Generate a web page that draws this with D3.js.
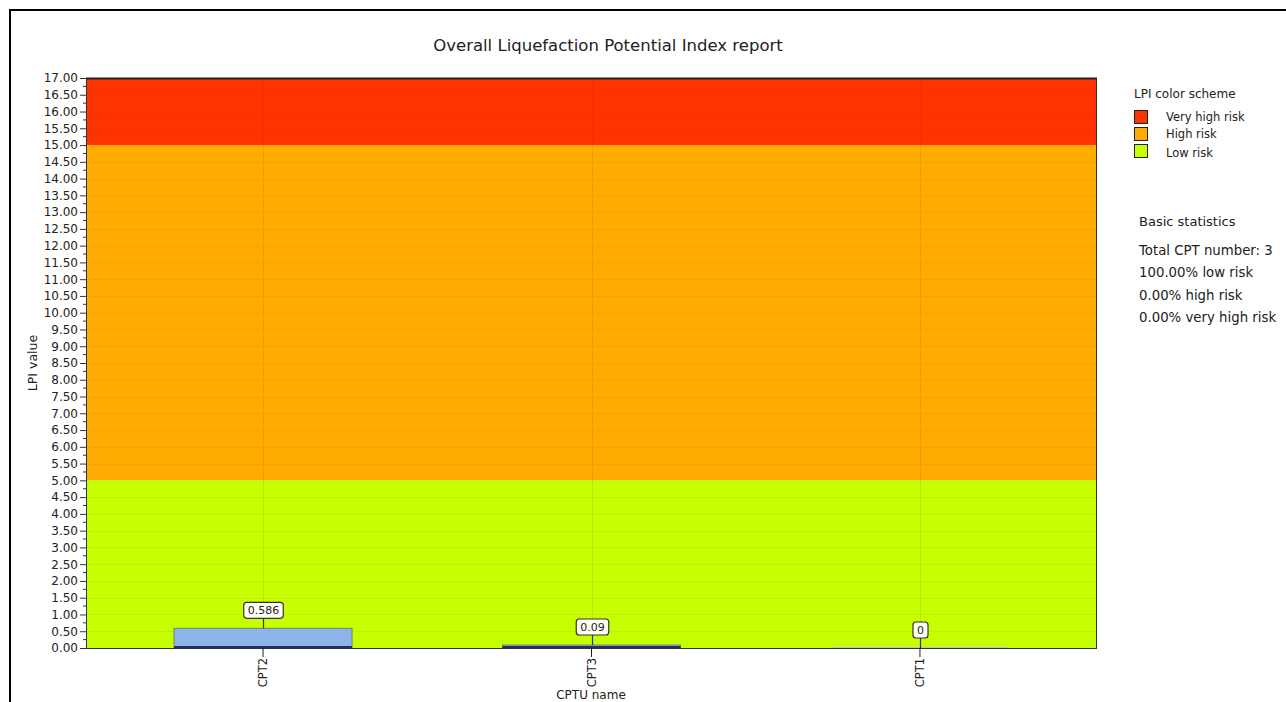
<!DOCTYPE html>
<html><head><meta charset="utf-8">
<script src="https://cdn.jsdelivr.net/npm/d3@7"></script>
<style>
html,body{margin:0;padding:0;background:#fff;}
svg{display:block;}
text{font-family:"DejaVu Sans",Verdana,sans-serif;fill:#222;}
</style></head>
<body>
<svg id="chart" width="1286" height="702"></svg>
<script>
const categories = ["CPT2", "CPT3", "CPT1"];
const lpiValues = [0.586, 0.09, 0];
const valueLabels = ["0.586", "0.09", "0"];
const riskNames = ["Very high risk", "High risk", "Low risk"];
const riskLower = [15, 5, 0];
const riskUpper = [17, 15, 5];
const riskColors = ["#ff3300", "#ffab00", "#c8ff00"];
const statLines = ["Total CPT number: 3", "100.00% low risk", "0.00% high risk", "0.00% very high risk"];
const yMax = 17;

const svg = d3.select("#chart");
const W = 1286, H = 702;
const m = {left: 86, right: 1097, top: 78, bottom: 648};

// outer frame
svg.append("path").attr("d", `M10,${H} L10,10 L${W},10`).attr("fill","none").attr("stroke","#000").attr("stroke-width",2);

const x = d3.scaleBand().domain(categories).range([m.left, m.right]).paddingOuter(0.039).paddingInner(0);
const y = d3.scaleLinear().domain([0, yMax]).range([m.bottom, m.top]);

// bands
svg.append("g").selectAll("rect").data(riskNames).join("rect")
  .attr("x", m.left).attr("width", m.right - m.left)
  .attr("y", (d,i) => y(riskUpper[i])).attr("height", (d,i) => y(riskLower[i]) - y(riskUpper[i]))
  .attr("fill", (d,i) => riskColors[i]);

// horizontal grid
const majorTicks = y.ticks(34);
svg.append("g").selectAll("line").data(majorTicks.filter(t => t > 0 && t < yMax)).join("line")
  .attr("x1", m.left).attr("x2", m.right).attr("y1", d => Math.round(y(d))+0.5).attr("y2", d => Math.round(y(d))+0.5)
  .attr("stroke", "rgba(90,60,0,0.07)").attr("stroke-width", 1);
// vertical grid
svg.append("g").selectAll("line").data(categories).join("line")
  .attr("x1", d => Math.round(x(d) + x.bandwidth()/2)+0.5).attr("x2", d => Math.round(x(d) + x.bandwidth()/2)+0.5)
  .attr("y1", m.top).attr("y2", m.bottom)
  .attr("stroke", "rgba(90,60,0,0.10)").attr("stroke-width", 1);

// bars
const barW = x.bandwidth() * 0.542;
const bars = svg.append("g");
categories.forEach((c, i) => {
  const cx = x(c) + x.bandwidth()/2;
  const v = lpiValues[i];
  const top = y(v);
  if (v > 0) {
    bars.append("rect").attr("x", cx - barW/2).attr("y", top).attr("width", barW).attr("height", y(0) - top)
      .attr("fill", "#8db4e8").attr("stroke", "#6d8a6a").attr("stroke-width", 1);
    bars.append("line").attr("x1", cx - barW/2).attr("x2", cx + barW/2).attr("y1", y(0) - 1).attr("y2", y(0) - 1)
      .attr("stroke", "#1f2f6a").attr("stroke-width", 2);
  } else {
    bars.append("line").attr("x1", cx - barW/2).attr("x2", cx + barW/2).attr("y1", y(0) - 0.5).attr("y2", y(0) - 0.5)
      .attr("stroke", "#b8c8b0").attr("stroke-width", 1);
  }
});

// plot border
svg.append("rect").attr("x", m.left + 0.5).attr("y", m.top + 0.5).attr("width", m.right - m.left - 1).attr("height", m.bottom - m.top)
  .attr("fill", "none").attr("stroke", "#333").attr("stroke-width", 1);
svg.append("line").attr("x1", m.left).attr("x2", m.right).attr("y1", m.top+0.5).attr("y2", m.top+0.5).attr("stroke","#222").attr("stroke-width",2);

// y axis
const yAxis = d3.axisLeft(y).tickValues(majorTicks).tickFormat(d3.format(".2f")).tickSize(6).tickPadding(2);
const gy = svg.append("g").attr("transform", `translate(${m.left},0)`).call(yAxis);
gy.select(".domain").attr("stroke", "#333");
gy.selectAll(".tick line").attr("stroke", "#333");
gy.selectAll(".tick text").style("font-size", "12px").attr("fill", "#333");
const minor = d3.range(0.25, yMax, 0.5);
svg.append("g").selectAll("line").data(minor).join("line")
  .attr("x1", m.left - 3).attr("x2", m.left).attr("y1", d => y(d)).attr("y2", d => y(d)).attr("stroke", "#333");

// x axis
const xAxis = d3.axisBottom(x).tickSize(9).tickPadding(3);
const gx = svg.append("g").attr("transform", `translate(0,${m.bottom})`).call(xAxis);
gx.select(".domain").remove();
gx.selectAll(".tick line").attr("stroke", "#222");
gx.selectAll(".tick text").style("font-size", "11.5px").attr("fill", "#333")
  .attr("transform", "rotate(-90)").attr("text-anchor", "end").attr("dy", "0.35em").attr("x", -10).attr("y", 0);

// value labels
const lbl = svg.append("g");
categories.forEach((c, i) => {
  const cx = Math.round(x(c) + x.bandwidth()/2) + 0.5;
  const top = y(lpiValues[i]);
  const boxBottom = top - 10;
  const t = lbl.append("text").attr("x", cx).attr("y", boxBottom - 4).attr("text-anchor", "middle")
    .style("font-size", "11px").attr("fill", "#222").text(valueLabels[i]);
  const bb = t.node().getBBox();
  lbl.insert("line", "text").attr("x1", cx).attr("x2", cx).attr("y1", boxBottom).attr("y2", top).attr("stroke", "#333").attr("stroke-width", 1.2);
  lbl.insert("rect", "text").attr("x", bb.x - 4).attr("y", boxBottom - 16).attr("width", bb.width + 8).attr("height", 16)
    .attr("rx", 3).attr("fill", "#fffff6").attr("stroke", "#333").attr("stroke-width", 1.2);
});

// titles
svg.append("text").attr("x", 608).attr("y", 51).attr("text-anchor", "middle").style("font-size", "16.5px").text("Overall Liquefaction Potential Index report");
svg.append("text").attr("transform", `translate(37,${(m.top + m.bottom)/2}) rotate(-90)`).attr("text-anchor", "middle").style("font-size", "12.5px").text("LPI value");
svg.append("text").attr("x", 591).attr("y", 699).attr("text-anchor", "middle").style("font-size", "12px").text("CPTU name");

// legend
svg.append("text").attr("x", 1134).attr("y", 98).style("font-size", "12px").text("LPI color scheme");
const lg = svg.append("g");
riskNames.forEach((n, i) => {
  lg.append("rect").attr("x", 1134.5).attr("y", 110.5 + i*17).attr("width", 13).attr("height", 13)
    .attr("fill", riskColors[i]).attr("stroke", "#222").attr("stroke-width", 1);
  lg.append("text").attr("x", 1166).attr("y", 121 + i*17 + (i===2?2:0)).style("font-size", "11.5px").text(n);
});
svg.append("text").attr("x", 1139).attr("y", 226).style("font-size", "13px").text("Basic statistics");
statLines.forEach((s, i) => {
  svg.append("text").attr("x", 1139).attr("y", 255 + i*22.3).style("font-size", "13.3px").text(s);
});
</script>
</body></html>
